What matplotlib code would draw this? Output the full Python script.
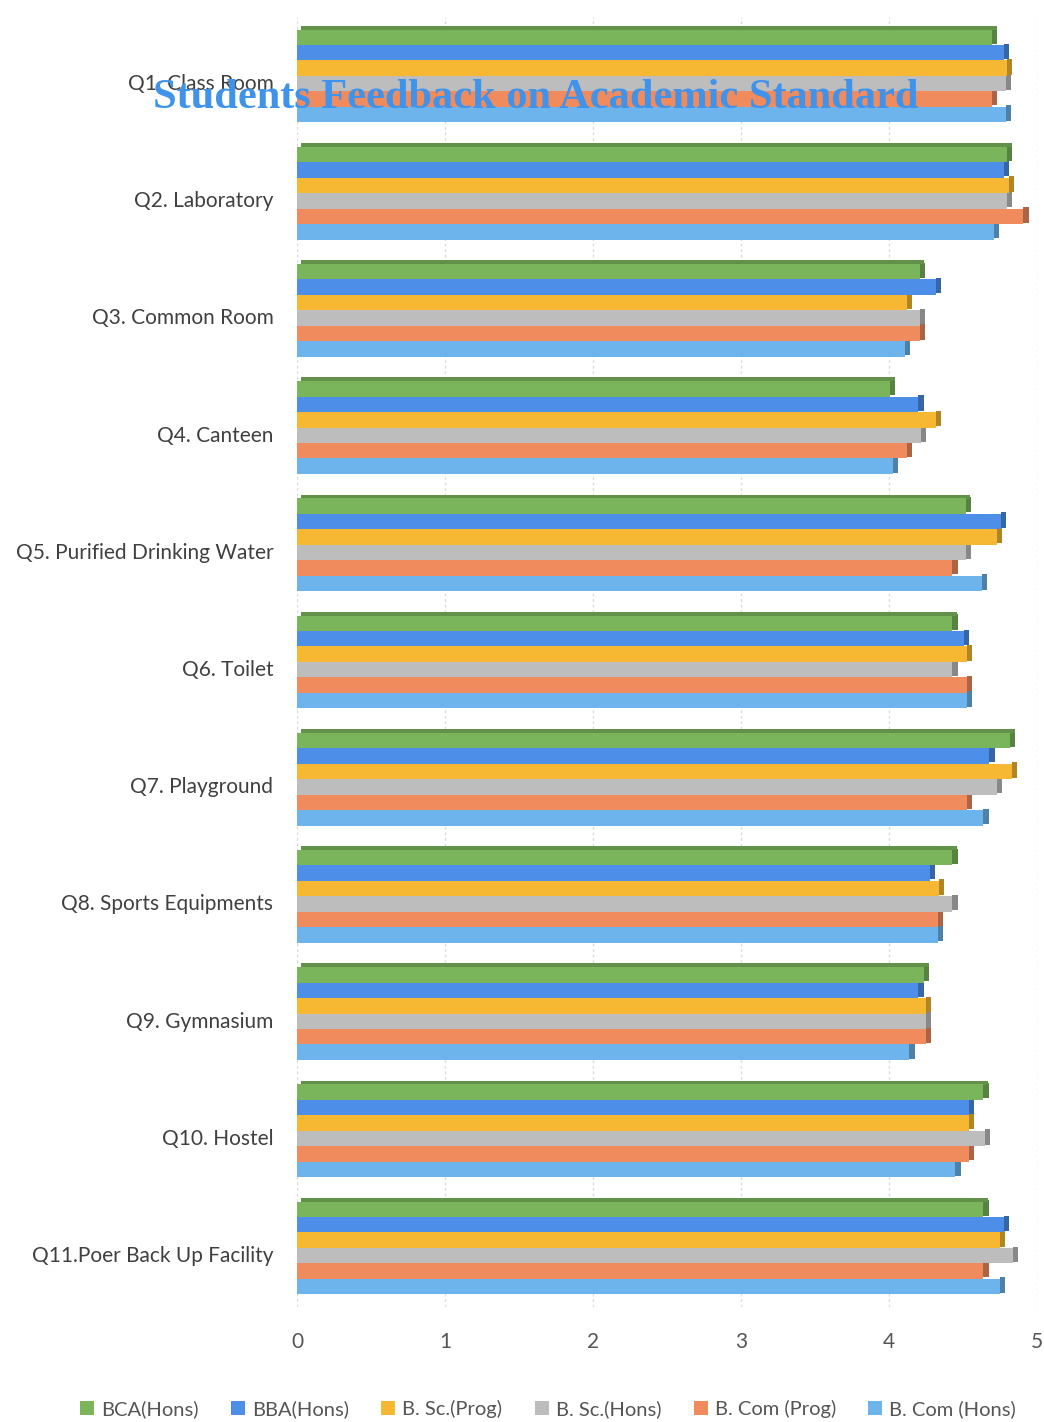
import numpy as np
import matplotlib.pyplot as plt
import matplotlib.colors as mcolors
import matplotlib.transforms as mtransforms
from matplotlib.patches import Patch

categories = ['Q1. Class Room', 'Q2. Laboratory', 'Q3. Common Room', 'Q4. Canteen',
              'Q5. Purified Drinking Water', 'Q6. Toilet', 'Q7. Playground',
              'Q8. Sports Equipments', 'Q9. Gymnasium', 'Q10. Hostel',
              'Q11.Poer Back Up Facility']

programs = ['BCA(Hons)', 'BBA(Hons)', 'B. Sc.(Prog)', 'B. Sc.(Hons)', 'B. Com (Prog)', 'B. Com (Hons)']
colors = ['#7ab55c', '#4d8ee8', '#f6b832', '#bdbdbd', '#f08b5e', '#6db3ec']

bca_hons   = [4.70, 4.80, 4.21, 4.01, 4.52, 4.43, 4.82, 4.43, 4.24, 4.64, 4.64]
bba_hons   = [4.78, 4.78, 4.32, 4.20, 4.76, 4.51, 4.68, 4.28, 4.20, 4.54, 4.78]
bsc_prog   = [4.80, 4.81, 4.12, 4.32, 4.73, 4.53, 4.83, 4.34, 4.25, 4.54, 4.75]
bsc_hons   = [4.79, 4.80, 4.21, 4.22, 4.52, 4.43, 4.73, 4.43, 4.25, 4.65, 4.84]
bcom_prog  = [4.70, 4.91, 4.21, 4.12, 4.43, 4.53, 4.53, 4.33, 4.25, 4.54, 4.64]
bcom_hons  = [4.79, 4.71, 4.11, 4.03, 4.63, 4.53, 4.64, 4.33, 4.14, 4.45, 4.75]

series = [bca_hons, bba_hons, bsc_prog, bsc_hons, bcom_prog, bcom_hons]

plt.rcParams['font.family'] = ['Lato', 'DejaVu Sans']

fig = plt.figure(figsize=(10.44, 14.22), dpi=100)
ax = fig.add_axes([0.2845, 0.0812, 0.7085, 0.9066])

n = len(categories)
y = np.arange(n)
bh = 0.132
for i, (vals, col) in enumerate(zip(series, colors)):
    pos = y - 2.5 * bh + i * bh
    dark = np.array(mcolors.to_rgb(col)) * 0.72
    # right side face (fake 3D)
    ax.barh(pos - 0.012, [0.035] * n, left=vals, height=bh, color=dark, zorder=2)
    ax.barh(pos, vals, height=bh, color=col, zorder=3)
    if i == 0:
        # top face of the first bar in each group
        ax.barh(pos - bh / 2 - 0.015, vals, height=0.035, left=0.03,
                color=np.array(mcolors.to_rgb(col)) * 0.8, zorder=2)

ax.set_xlim(0, 5)
ax.set_ylim(n - 0.5, -0.5)
ax.set_xticks(range(6))
ax.set_yticks(y)
ax.set_yticklabels(categories, fontsize=15, color='#404040')
ax.tick_params(axis='x', labelsize=15, colors='#555555', length=0, pad=18)
ax.tick_params(axis='y', length=0, pad=17)
shift = mtransforms.ScaledTranslation(0, -6 / 100, fig.dpi_scale_trans)
for lbl in ax.get_yticklabels():
    lbl.set_transform(lbl.get_transform() + shift)
ax.grid(axis='x', color='#dcdcdc', lw=1, ls=(0, (2, 2)), zorder=0)
for s in ax.spines.values():
    s.set_visible(False)

fig.text(0.513, 0.931, 'Students Feedback on Academic Standard', ha='center', va='center',
         fontsize=30.5, fontweight='bold', color='#3f93ea', family='Liberation Serif', zorder=10)

handles = [Patch(facecolor=c, label=p) for p, c in zip(programs, colors)]
fig.legend(handles=handles, loc='center', bbox_to_anchor=(0.525, 0.009), ncol=6,
           frameon=False, fontsize=14.5, handlelength=0.7, handleheight=0.7,
           handletextpad=0.35, columnspacing=1.6, labelcolor='#555555')

fig.savefig('out.png', dpi=100, facecolor='white')
